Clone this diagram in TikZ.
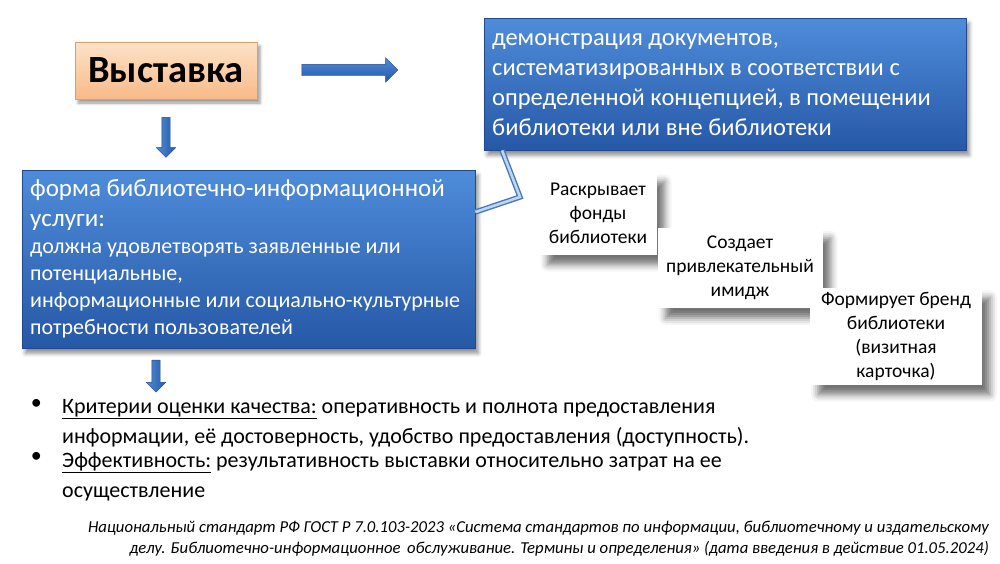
\documentclass[tikz,border=0pt]{standalone}
\usepackage{fontspec}
\setmainfont{Carlito}
\usepackage{tikz}
\usetikzlibrary{positioning,shapes,calc,shadows.blur}

\definecolor{boxblueT}{RGB}{78,140,218}
\definecolor{boxblueB}{RGB}{38,88,166}
\definecolor{boxedge}{RGB}{36,72,140}
\definecolor{peachT}{RGB}{253,226,200}
\definecolor{peachB}{RGB}{248,186,136}
\definecolor{peachE}{RGB}{226,156,96}
\definecolor{ptrblue}{RGB}{70,120,190}
\definecolor{ptrlight}{RGB}{190,214,240}

\begin{document}
\begin{tikzpicture}[x=1pt,y=-1pt,
  every node/.style={align=center},
  title/.style={draw=peachE,top color=peachT,bottom color=peachB,inner sep=0pt,
    minimum width=182pt,minimum height=57pt,font=\fontsize{38.5}{42}\selectfont\bfseries,
    blur shadow={shadow xshift=3pt,shadow yshift=-4pt,shadow blur radius=3pt,shadow opacity=40}},
  defbox/.style={draw=boxedge,top color=boxblueT,bottom color=boxblueB,text=white,
    align=flush left,inner sep=8pt,anchor=north west,
    blur shadow={shadow xshift=3pt,shadow yshift=-5pt,shadow blur radius=4pt,shadow opacity=45}},
  note/.style={fill=white,inner sep=0pt,font=\fontsize{19.5}{24}\selectfont,
    blur shadow={shadow xshift=8pt,shadow yshift=-10pt,shadow blur radius=7pt,shadow opacity=55}},
  blkarrow/.style={single arrow,draw=boxedge,minimum width=0pt,minimum height=#1},
  wide/.style={inner xsep=0pt,inner ysep=5.5pt,single arrow head extend=6.5pt,
    top color=boxblueT,bottom color=boxblueB},
  slim/.style={inner sep=4pt,single arrow head extend=5.5pt,shape border rotate=270,
    left color=boxblueT,right color=boxblueB},
  pointer/.style={draw=ptrblue,line width=1.4pt,double=ptrlight,double distance=2.6pt},
  crit/.style={align=flush left,inner sep=0pt,font=\fontsize{22}{27}\selectfont},
  source/.style={align=right,inner sep=0pt,font=\fontsize{16.7}{21}\selectfont\itshape}]

  \useasboundingbox (0,0) rectangle (1000,563);

  % top row
  \node[title] (vyst) at (166,70.5) {Выставка};
  \node[defbox,minimum width=482pt,minimum height=132pt,text width=466pt,
    font=\fontsize{24.5}{30}\selectfont] (demo) at (484,18)
    {демонстрация документов,\\систематизированных в соответствии с\\
     определенной концепцией, в помещении\\библиотеки или вне библиотеки};
  \node[blkarrow=96pt,wide] (arr1) at (347,70) {};
  \node[blkarrow=40pt,slim] (arr2) at ($(vyst.south)+(0,36)$) {};

  % left box
  \node[defbox,minimum width=453pt,minimum height=178pt,text width=437pt] (form) at (22,170)
    {{\fontsize{25}{30}\selectfont форма библиотечно-информационной\\услуги:\par}
     \fontsize{22}{27}\selectfont должна удовлетворять заявленные или\\потенциальные,\\
     информационные или социально-культурные\\потребности пользователей\par};
  \coordinate (ptip) at (520,197);
  \draw[pointer] ($(demo.south west)+(18,0)$) -- (ptip) -- ($(form.north east)+(0,42)$);

  % functions
  \node[note,minimum width=117pt,minimum height=83pt] (fonds) at (598,213)
    {Раскрывает\\фонды\\библиотеки};
  \node[note,minimum width=165pt,minimum height=80pt] (image) at (740,268)
    {Создает\\привлекательный\\имидж};
  \node[note,minimum width=172pt,minimum height=97pt] (brand) at (896,336)
    {Формирует бренд\\библиотеки\\(визитная\\карточка)};

  % criteria
  \node[blkarrow=32pt,slim] (arr3) at (156,374) {};
  \node[crit,text width=720pt,anchor=north west] (crit1) at (62,399)
    {\underline{Критерии оценки качества:} оперативность и полнота предоставления\\[3pt]
     информации, её достоверность, удобство предоставления (доступность).};
  \node[crit,text width=720pt,anchor=north west] (crit2) at (62,452)
    {\underline{Эффективность:} результативность выставки относительно затрат на ее\\[3pt]
     осуществление};
  \node[crit,anchor=north east,xshift=-20pt] (dot1) at (crit1.north west) {\textbullet};
  \node[crit,anchor=north east,xshift=-20pt] (dot2) at (crit2.north west) {\textbullet};

  \node[source,anchor=north east] (gost) at (989,521)
    {Национальный стандарт РФ ГОСТ Р 7.0.103-2023 «Система стандартов по информации, библиотечному и издательскому\\
     делу. Библиотечно-информационное\, обслуживание. Термины и определения» (дата введения в действие 01.05.2024)};
\end{tikzpicture}
\end{document}
